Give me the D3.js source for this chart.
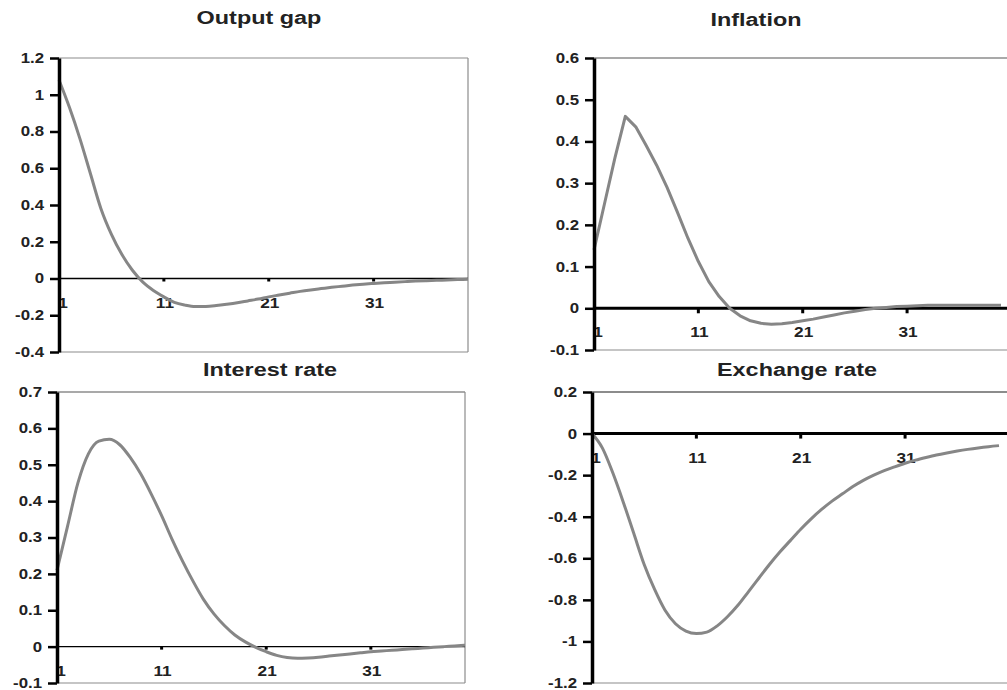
<!DOCTYPE html>
<html>
<head>
<meta charset="UTF-8">
<script src="https://d3js.org/d3.v7.min.js"></script>
<style>
    body {
        margin: 0;
        background: #fff;
    }

    svg {
        display: block;
    }

    text {
        font-family: "Liberation Sans", Arial, sans-serif;
        font-weight: bold;
        fill: #222;
    }

    text.title {
        font-size: 18px;
    }

    .frame {
        fill: none;
        stroke: #8c8c8c;
        stroke-width: 1.2;
    }

    .series {
        fill: none;
        stroke: #868686;
        stroke-width: 3;
        stroke-linejoin: round;
    }
</style>
</head>
<body>
<svg width="1007" height="690"></svg>
<script>
    // periods 1..40
    const periods = d3.range(1, 41);
    const xTickLabels = [1, 11, 21, 31];

    const outputGap = [1.08, 0.93, 0.76, 0.57, 0.38, 0.24, 0.13, 0.045, -0.02, -0.065,
        -0.10, -0.13, -0.145, -0.153, -0.152, -0.147, -0.14, -0.132, -0.122, -0.112,
        -0.10, -0.09, -0.08, -0.07, -0.062, -0.055, -0.048, -0.042, -0.036, -0.031,
        -0.027, -0.023, -0.02, -0.017, -0.014, -0.012, -0.01, -0.008, -0.006, -0.004];

    const inflation = [0.14, 0.25, 0.36, 0.46, 0.435, 0.39, 0.343, 0.29, 0.23, 0.168,
        0.112, 0.064, 0.028, 0.0, -0.018, -0.03, -0.036, -0.038, -0.037, -0.034,
        -0.03, -0.026, -0.021, -0.016, -0.011, -0.007, -0.003, 0.0, 0.002, 0.004,
        0.005, 0.006, 0.007, 0.007, 0.007, 0.007, 0.007, 0.007, 0.007, 0.007];

    const interestRate = [0.21, 0.33, 0.45, 0.53, 0.565, 0.57, 0.555, 0.52, 0.475, 0.42,
        0.36, 0.295, 0.235, 0.18, 0.13, 0.09, 0.058, 0.032, 0.013, -0.002,
        -0.014, -0.024, -0.03, -0.032, -0.031, -0.029, -0.026, -0.023, -0.02, -0.017,
        -0.014, -0.012, -0.01, -0.008, -0.006, -0.004, -0.002, 0.0, 0.002, 0.004];

    const exchangeRate = [0, -0.07, -0.19, -0.33, -0.48, -0.63, -0.75, -0.85, -0.915, -0.95,
        -0.962, -0.955, -0.925, -0.88, -0.825, -0.76, -0.695, -0.63, -0.57, -0.515,
        -0.46, -0.41, -0.365, -0.325, -0.29, -0.255, -0.225, -0.2, -0.178, -0.16,
        -0.143, -0.128, -0.115, -0.103, -0.093, -0.084, -0.076, -0.069, -0.063, -0.058];

    const outputGapTicks = [1.2, 1, 0.8, 0.6, 0.4, 0.2, 0, -0.2, -0.4];
    const inflationTicks = [0.6, 0.5, 0.4, 0.3, 0.2, 0.1, 0, -0.1];
    const interestTicks = [0.7, 0.6, 0.5, 0.4, 0.3, 0.2, 0.1, 0, -0.1];
    const exchangeTicks = [0.2, 0, -0.2, -0.4, -0.6, -0.8, -1, -1.2];

    const panels = [
        { title: "Output gap", values: outputGap, ticks: outputGapTicks,
          box: { left: 59, right: 468, top: 58, bottom: 352 }, titleX: 259, titleY: 19,
          thickZero: false, topW: 1.2, curve: d3.curveMonotoneX },
        { title: "Inflation", values: inflation, ticks: inflationTicks,
          box: { left: 594, right: 1001, top: 58, bottom: 350 }, titleX: 756, titleY: 21,
          thickZero: true, topW: 1.6, openRight: true, curve: d3.curveLinear },
        { title: "Interest rate", values: interestRate, ticks: interestTicks,
          box: { left: 57, right: 465, top: 392, bottom: 683 }, titleX: 270, titleY: 371,
          thickZero: false, topW: 1.6, curve: d3.curveMonotoneX },
        { title: "Exchange rate", values: exchangeRate, ticks: exchangeTicks,
          box: { left: 592, right: 999, top: 392, bottom: 683 }, titleX: 797, titleY: 371,
          thickZero: true, topW: 2, openRight: true, curve: d3.curveMonotoneX }
    ];

    const svg = d3.select("svg");
    const fmt = d => d === 0 ? "0" : String(d);

    // the original text is wide; stretch glyphs horizontally
    function widen(sel, k) {
        sel.each(function() {
            const w = this.getComputedTextLength();
            d3.select(this).attr("textLength", w * k).attr("lengthAdjust", "spacingAndGlyphs");
        });
    }

    panels.forEach(p => {
        const b = p.box;
        const x = d3.scaleLinear().domain([1, 40]).range([b.left, b.right]);
        const y = d3.scaleLinear()
            .domain([d3.min(p.ticks), d3.max(p.ticks)])
            .range([b.bottom, b.top]);
        const g = svg.append("g");
        const xEnd = p.openRight ? 1007 : b.right;

        // frame: top, right, bottom in gray
        g.append("line").attr("class", "frame")
            .attr("x1", b.left).attr("x2", xEnd)
            .attr("y1", b.top).attr("y2", b.top)
            .style("stroke-width", p.topW);
        if (!p.openRight) {
            g.append("line").attr("class", "frame")
                .attr("x1", b.right).attr("x2", b.right)
                .attr("y1", b.top).attr("y2", b.bottom);
        }
        g.append("line").attr("class", "frame")
            .attr("x1", b.left).attr("x2", xEnd)
            .attr("y1", b.bottom).attr("y2", b.bottom);

        // zero line with category ticks
        const y0 = y(0);
        g.append("line")
            .attr("x1", b.left).attr("x2", xEnd)
            .attr("y1", y0).attr("y2", y0)
            .attr("stroke", "#000")
            .attr("stroke-width", p.thickZero ? 3 : 1.4);

        g.selectAll(".xt").data(xTickLabels.slice(1)).enter().append("line")
            .attr("x1", d => x(d)).attr("x2", d => x(d))
            .attr("y1", y0).attr("y2", y0 + (p.thickZero ? 5 : 3))
            .attr("stroke", "#000").attr("stroke-width", 3);

        const xl = g.selectAll(".xl").data(xTickLabels).enter().append("text")
            .attr("x", d => d === 1 ? x(d) + 4 : x(d) + 1)
            .attr("y", y0 + 29)
            .attr("text-anchor", "middle")
            .style("font-size", "15px")
            .text(d => d);
        widen(xl, 1.15);

        // series
        const line = d3.line()
            .x((d, i) => x(periods[i]))
            .y(d => y(d))
            .curve(p.curve);
        g.append("path").datum(p.values)
            .attr("class", "series")
            .attr("d", line);

        // y axis
        const ax = g.append("g")
            .attr("transform", `translate(${b.left},0)`)
            .call(d3.axisLeft(y).tickValues(p.ticks).tickFormat(fmt)
                .tickSize(9).tickSizeOuter(0).tickPadding(6));
        ax.select(".domain").attr("stroke", "#000").attr("stroke-width", 3.5);
        ax.selectAll(".tick line").attr("stroke", "#000").attr("stroke-width", 2.5);
        ax.selectAll(".tick text")
            .attr("fill", "#222")
            .style("font-size", "14px")
            .style("font-family", "'Liberation Sans', Arial, sans-serif");
        widen(ax.selectAll(".tick text"), 1.2);

        const t = g.append("text").attr("class", "title")
            .attr("x", p.titleX).attr("y", p.titleY)
            .attr("text-anchor", "middle")
            .attr("dominant-baseline", "middle")
            .text(p.title);
        widen(t, 1.3);
    });
</script>
</body>
</html>
